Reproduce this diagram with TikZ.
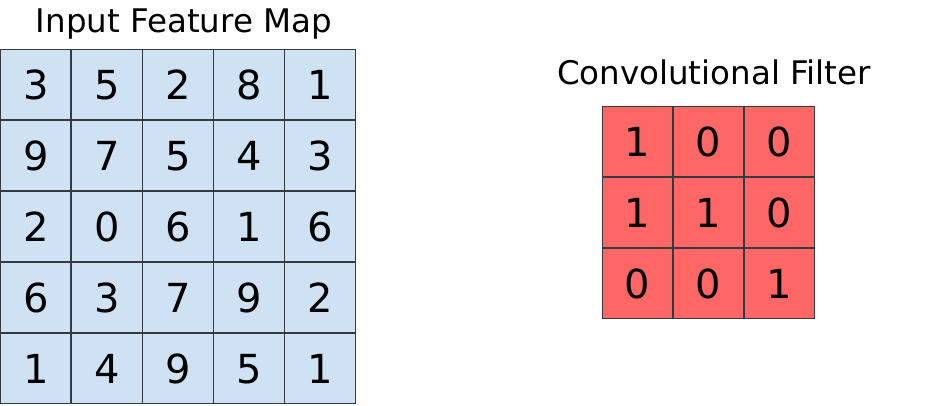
\documentclass[tikz,border=0pt]{standalone}
\usepackage{fontspec}
\setmainfont{DejaVu Sans}
\usepackage{tikz}
\usetikzlibrary{matrix}
\usetikzlibrary{positioning}
\definecolor{inputblue}{HTML}{CFE2F3}
\definecolor{filterred}{HTML}{FF6666}
\definecolor{gridline}{HTML}{36393D}
\tikzstyle{cell} = [rectangle, anchor=center, minimum size=70pt, text width=70pt, text height=29pt, text depth=0pt, inner sep=0pt, align=center, draw=gridline, line width=1pt, font=\fontsize{40}{40}\selectfont]
\tikzstyle{inputcell} = [cell, fill=inputblue]
\tikzstyle{filtercell} = [cell, fill=filterred]
\tikzstyle{title} = [anchor=base, inner sep=0pt, font=\fontsize{32.5}{32.5}\selectfont]

\begin{document}
\begin{tikzpicture}[x=1pt, y=-1pt]
						\useasboundingbox (0,0) rectangle (934,406);
						\matrix (input) [matrix of nodes, nodes={inputcell}, column sep=0pt, row sep=0pt, inner sep=0pt] at (178,226.5) {
							3 & 5 & 2 & 8 & 1 \\
							9 & 7 & 5 & 4 & 3 \\
							2 & 0 & 6 & 1 & 6 \\
							6 & 3 & 7 & 9 & 2 \\
							1 & 4 & 9 & 5 & 1 \\
						};
						\matrix (filter) [matrix of nodes, nodes={filtercell}, column sep=0pt, row sep=0pt, inner sep=0pt] at (708.5,212.5) {
							1 & 0 & 0 \\
							1 & 1 & 0 \\
							0 & 0 & 1 \\
						};
						\node (inputtitle) [title] at (184,33) {Input Feature Map};
						\node (filtertitle) [title] at (714,85) {Convolutional Filter};
					\end{tikzpicture}
\end{document}
